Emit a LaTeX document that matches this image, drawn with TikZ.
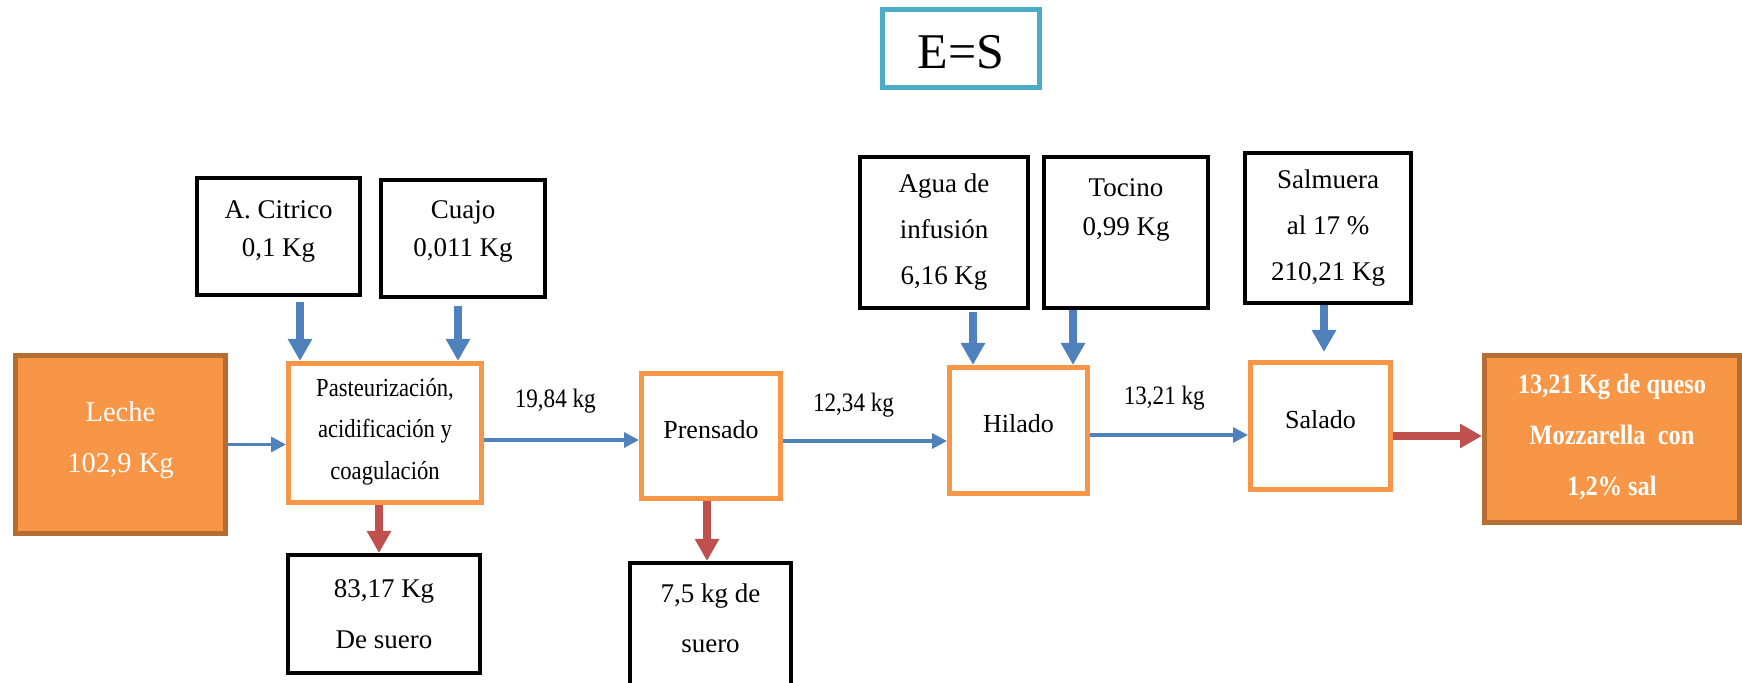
\documentclass[tikz,border=0pt]{standalone}
\usepackage{fontspec}
\setmainfont{Liberation Serif}
\newfontfamily\narrowserif{Liberation Serif}[FakeStretch=0.87]
\usepackage{tikz}
\usetikzlibrary{arrows.meta, positioning}
\definecolor{flowblue}{HTML}{4F81BD}
\definecolor{wastered}{HTML}{C0504D}
\definecolor{boxorange}{HTML}{F79646}
\definecolor{edgebrown}{HTML}{B66D31}
\definecolor{eqteal}{HTML}{4BACC6}
\tikzstyle{input}=[rectangle, draw=black, line width=2pt, align=center, font=\fontsize{13.5}{23}\selectfont]
\tikzstyle{process}=[rectangle, draw=boxorange, line width=2.5pt, align=center, text depth=7pt, font=\fontsize{13}{20.75}\selectfont]
\tikzstyle{product}=[rectangle, draw=edgebrown, fill=boxorange, line width=2.5pt, align=center, text=white]
\tikzstyle{flow}=[color=flowblue, line width=1.6pt, -{Triangle[length=7.5pt, width=7.5pt]}]
\tikzstyle{feed}=[color=flowblue, line width=3.7pt, -{Triangle[length=11pt, width=11.5pt]}]
\tikzstyle{waste}=[color=wastered, line width=4.2pt, -{Triangle[length=11pt, width=11.5pt]}]
\tikzstyle{rate}=[text=black, font=\narrowserif\fontsize{13.3}{16}\selectfont]

\begin{document}
\begin{tikzpicture}[x=0.5pt, y=-0.5pt]
    \path[use as bounding box, clip] (0,0) rectangle (1742,683);

    % balance
    \node[draw=eqteal, line width=2.5pt, minimum width=78.5pt, minimum height=39pt, text height=20pt, font=\fontsize{25}{30}\selectfont] (eqs) at (961,48.5) {E=S};

    % entradas
    \node[input, minimum width=81.5pt, minimum height=58.5pt, text depth=7.5pt, font=\fontsize{13.5}{19}\selectfont] (citrico) at (278.5,236.5) {A. Citrico\\0,1 Kg};
    \node[input, minimum width=82pt, minimum height=58.5pt, text depth=9.5pt, font=\fontsize{13.5}{19}\selectfont] (cuajo) at (463,238.5) {Cuajo\\0,011 Kg};
    \node[input, minimum width=84pt, minimum height=75.5pt] (agua) at (944,232.5) {Agua de\\infusión\\6,16 Kg};
    \node[input, minimum width=82pt, minimum height=75.5pt, text depth=25pt, font=\fontsize{13.5}{19.5}\selectfont] (tocino) at (1126,232.5) {Tocino\\0,99 Kg};
    \node[input, minimum width=83pt, minimum height=75pt] (salmuera) at (1328,228) {Salmuera\\al 17 \%\\210,21 Kg};

    % linea de proceso
    \node[product, minimum width=105pt, minimum height=89pt, text depth=7pt, font=\fontsize{14.3}{25.5}\selectfont] (leche) at (120.5,444.5) {Leche\\102,9 Kg};
    \node[process, minimum width=96.5pt, minimum height=69.5pt, text depth=4.2pt, font=\narrowserif\fontsize{13}{20.75}\selectfont] (past) at (385,433) {Pasteurización,\\acidificación y\\coagulación};
    \node[process, minimum width=69.5pt, minimum height=62.5pt] (prensado) at (711,436) {Prensado};
    \node[process, minimum width=69pt, minimum height=63pt] (hilado) at (1018.5,430.5) {Hilado};
    \node[process, minimum width=70pt, minimum height=63.5pt] (salado) at (1320.5,426) {Salado};
    \node[product, minimum width=127.5pt, minimum height=83.5pt, text depth=4.7pt, font=\narrowserif\bfseries\fontsize{14}{25.5}\selectfont] (queso) at (1612,439) {13,21 Kg de queso\\Mozzarella\ \ con\\1,2\% sal};

    % salidas de suero
    \node[input, minimum width=96pt, minimum height=59pt, font=\fontsize{13.5}{25.5}\selectfont] (suero1) at (384,614) {83,17 Kg\\De suero};
    \node[input, minimum width=80.5pt, minimum height=80pt, anchor=north, text depth=25pt, font=\fontsize{13.5}{25}\selectfont] (suero2) at (710.5,561) {7,5 kg de\\suero};

    % flujo principal
    \draw[flow] (leche.east) -- (leche.east -| past.west);
    \coordinate (p1) at ([yshift=-3.5pt]past.east);
    \draw[flow] (p1) -- (p1 -| prensado.west) node[rate, pos=.46, yshift=19.5pt] (m1) {19,84 kg};
    \coordinate (p2) at ([yshift=-2.5pt]prensado.east);
    \draw[flow] (p2) -- (p2 -| hilado.west) node[rate, pos=.43, yshift=18pt] (m2) {12,34 kg};
    \coordinate (p3) at ([yshift=-2.25pt]hilado.east);
    \draw[flow] (p3) -- (p3 -| salado.west) node[rate, pos=.47, yshift=18.5pt] (m3) {13,21 kg};
    \coordinate (p4) at ([yshift=-5pt]salado.east);
    \draw[waste] (p4) -- (p4 -| queso.west);

    % adiciones
    \coordinate (f1) at ([xshift=10.75pt]citrico.south);
    \draw[feed, shorten <=2.5pt] (f1) -- (f1 |- past.north);
    \coordinate (f2) at ([xshift=-2.5pt]cuajo.south);
    \draw[feed, shorten <=3.5pt] (f2) -- (f2 |- past.north);
    \coordinate (f3) at ([xshift=14.5pt]agua.south);
    \draw[feed, shorten <=1pt] (f3) -- (f3 |- hilado.north);
    \coordinate (f4) at ([xshift=-26.5pt]tocino.south);
    \draw[feed] (f4) -- (f4 |- hilado.north);
    \coordinate (f5) at ([xshift=-2pt]salmuera.south);
    \draw[feed, shorten >=4pt] (f5) -- (f5 |- salado.north);

    % suero
    \coordinate (w1) at ([xshift=-3pt]past.south);
    \draw[waste] (w1) -- (w1 |- suero1.north);
    \coordinate (w2) at ([xshift=-2pt]prensado.south);
    \draw[waste] (w2) -- (w2 |- suero2.north);
\end{tikzpicture}
\end{document}
